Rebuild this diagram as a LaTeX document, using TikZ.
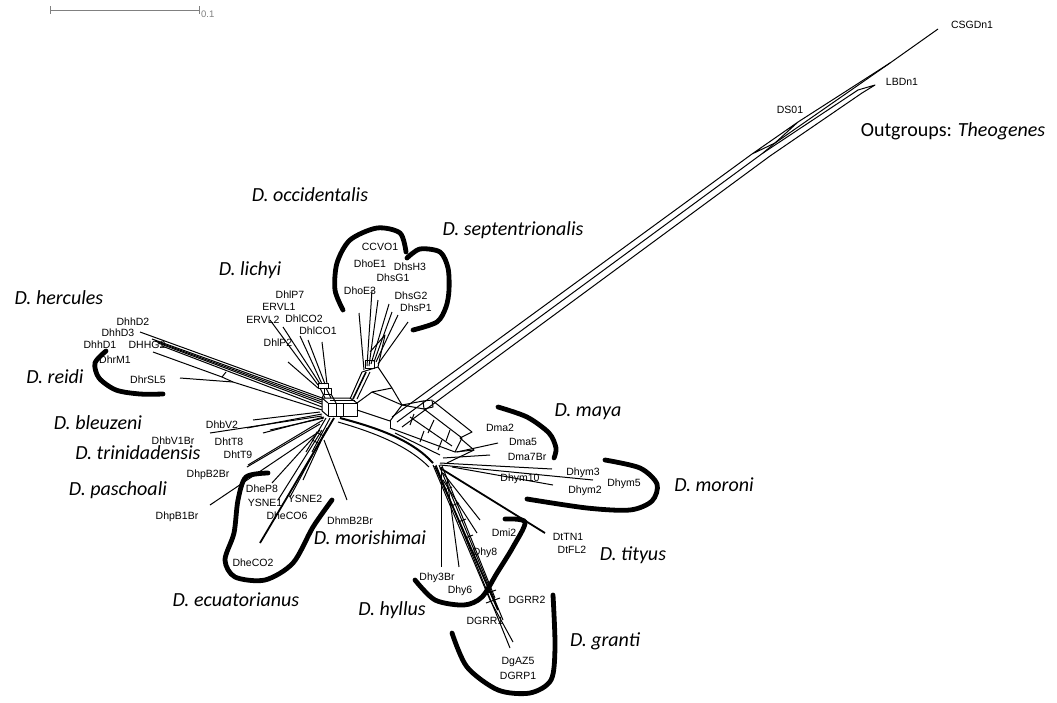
\documentclass[tikz,border=0pt]{standalone}
\usepackage{fontspec}
\setmainfont{Liberation Sans}
\newfontfamily\spfont{Carlito}
\begin{document}
\begin{tikzpicture}[x=1pt,y=-1pt,
  net/.style={line width=1pt, line join=round},
  thk/.style={line width=1.8pt},
  grp/.style={line width=4.8pt, line cap=round},
  leaf/.style={font=\fontsize{10.5}{12}\selectfont, inner sep=0pt},
  spc/.style={font=\spfont\itshape\fontsize{20}{24}\selectfont, inner sep=0pt}]
\path[use as bounding box] (0,0) rectangle (1057,702);

% scale bar
\draw[gray, line width=1pt] (50,6)--(50,14) (50,10)--(199,10) (199,6)--(199,14);
\node[text=gray, font=\fontsize{9.5}{10}\selectfont, anchor=west, inner sep=0pt] (scale) at (201,14) {0.1};

% ---------- outgroup bundle ----------
\draw[net] (392,417) -- (752,154) -- (798,122) -- (775,143) -- (752,154);
\draw[net] (798,122) -- (890,63) -- (938,29);
\draw[net] (775,143) -- (890,63);
\draw[net] (397,422) -- (763,153) -- (775,143);
\draw[net] (402,427) -- (770,156) -- (862,93) -- (875,85) -- (858,90) -- (763,153);

% ---------- central hub ----------
\draw[net] (328,403) rectangle (357,416);
\draw[net] (336,403) -- (336,416) (343,403) -- (343,416);
\draw[net] (322,398) -- (328,403) (322,411) -- (328,416) (322,398) -- (322,411);
\draw[net] (322,398) -- (350,398) -- (357,403);
\draw[net] (330,400) -- (355,400);
\draw[net] (324,388) rectangle (331,394);
\draw[net] (331,394) -- (336,403) (324,394) -- (322,398);

% ---------- right band ----------
\draw[line width=2pt] (340,418) .. controls (378,428) and (412,440) .. (433,463);
\draw[net] (338,422) .. controls (376,433) and (408,446) .. (429,467);
\draw[net] (357,403) -- (372,392) -- (402,405) -- (390,421) -- (357,410);
\draw[net] (390,421) -- (390,428);
\draw[net] (378,367) -- (392,388) -- (402,405);
\draw[net] (392,388) -- (372,392);
\draw[net] (402,405) -- (423,401) -- (432,400) -- (433,407) -- (424,409) -- (423,401);
\draw[net] (424,409) -- (402,405);
\draw[net] (433,401) -- (472,432) -- (460,438) -- (474,450) -- (447,463);
\draw[net] (424,409) -- (462,438);
\draw[net] (390,428) -- (455,452) -- (474,450);
\draw[net] (410,417) -- (452,446);
\draw[net] (395,433) -- (440,455);
\draw[net] (410,425) -- (414,414) (428,433) -- (434,420) (446,441) -- (450,430);
\draw[net] (420,442) -- (424,431) (438,450) -- (442,440);
\draw[net] (455,452) -- (462,438);

% ---------- upper clade (occidentalis / septentrionalis) ----------
\draw[net] (362,372) -- (350,399);
\draw[net] (370,372) -- (357,399);
\draw[line width=1.6pt] (366,372) -- (353,399);
\draw[net] (362,372) -- (378,367);
\draw[net] (365,368) rectangle (374,360);
\draw[net] (364,370) -- (359,313);
\draw[net] (367,366) -- (372,290);
\draw[net] (369,366) -- (378,300);
\draw[net] (371,364) -- (389,304);
\draw[net] (374,362) -- (392,312);
\draw[net] (376,362) -- (398,315);
\draw[net] (378,364) -- (408,322);
\draw[net] (370,352) -- (385,335) -- (378,367);

% ---------- lichyi ----------
\draw[net] (318,383) rectangle (328,388);
\draw[net] (320,388) -- (325,398) (326,388) -- (331,398);
\draw[net] (270,320) -- (318,385);
\draw[net] (283,327) -- (320,384);
\draw[net] (300,336) -- (322,384);
\draw[net] (308,340) -- (325,384);
\draw[net] (322,342) -- (327,384);
\draw[net] (288,362) -- (318,388);

% ---------- hercules / reidi ----------
\draw[net] (322,398) -- (140,332);
\draw[net] (322,400) -- (152,339);
\draw[net] (322,402) -- (155,341);
\draw[net] (322,404) -- (158,343);
\draw[net] (322,407) -- (162,346);
\draw[net] (322,410) -- (233,382) -- (180,378);
\draw[net] (153,352) -- (222,377) -- (233,382);
\draw[net] (222,377) -- (226,372);

% ---------- bleuzeni / trinidadensis / paschoali / ecuatorianus ----------
\draw[net] (253,420) -- (320,412);
\draw[net] (247,428) -- (322,414);
\draw[net] (210,433) -- (322,416);
\draw[net] (263,433) -- (324,417);
\draw[net] (270,430) -- (324,418);
\draw[net] (248,465) -- (323,420);
\draw[net] (247,467) -- (320,424);
\draw[net] (326,418) -- (306,452);
\draw[net] (330,418) -- (312,452);
\draw[thk] (334,418) -- (260,543);
\draw[net] (210,505) -- (317,433);
\draw[net] (272,483) -- (320,430);
\draw[net] (278,500) -- (322,430);
\draw[net] (290,497) -- (325,432);
\draw[net] (303,480) -- (327,428);
\draw[net] (347,500) -- (324,440);
\draw[net] (316,432) -- (324,436) (312,440) -- (320,444);

% ---------- maya / moroni / tityus ----------
\draw[net] (457,452) -- (498,443);
\draw[net] (443,458) -- (490,455);
\draw[net] (440,463) -- (552,469);
\draw[net] (440,465) -- (593,480);
\draw[net] (452,467) -- (553,485);
\draw[thk] (440,468) -- (545,533);

% ---------- hyllus / granti ----------
\draw[net] (433,465) -- (490,600) -- (513,642);
\draw[net] (436,465) -- (510,648);
\draw[net] (439,465) -- (503,620);
\draw[net] (442,466) -- (495,598);
\draw[thk] (435,466) -- (498,610);
\draw[net] (441,467) -- (441,567);
\draw[net] (447,478) -- (459,567);
\draw[net] (443,480) -- (477,533);
\draw[net] (443,473) -- (480,520);
\draw[net] (444,490) -- (452,487) (451,506) -- (459,503) (458,522) -- (466,519) (465,538) -- (473,535);
\draw[net] (482,595) -- (496,590) (486,603) -- (500,598);

% ---------- group curves ----------
\draw[grp] plot[smooth] coordinates {(343,310) (335,290) (337,263) (350,240) (377,228) (400,233) (406,252)};
\draw[grp] plot[smooth] coordinates {(407,258) (420,249) (440,252) (448,268) (449,290) (446,307) (437,322) (413,330)};
\draw[grp] plot[smooth] coordinates {(106,351) (95,363) (99,378) (116,390) (140,394) (163,394)};
\draw[grp] plot[smooth] coordinates {(268,473) (246,477) (238,500) (234,533) (225,560) (235,577) (265,580) (293,563) (313,527) (332,500)};
\draw[grp] plot[smooth] coordinates {(505,519) (525,522) (513,547) (497,573) (482,597) (464,605) (435,600) (415,580)};
\draw[grp] plot[smooth] coordinates {(553,595) (555,647) (551,680) (530,693) (498,690) (467,667) (452,633)};
\draw[grp] plot[smooth] coordinates {(605,460) (640,468) (657,484) (652,501) (630,510) (587,508) (527,499)};
\draw[grp] plot[smooth] coordinates {(498,407) (527,417) (549,433) (556,448) (554,458)};

% ---------- leaf labels ----------
\node[leaf] (CSGDn1) at (972,25) {CSGDn1};
\node[leaf] (LBDn1) at (902,82) {LBDn1};
\node[leaf] (DS01) at (790,110) {DS01};
\node[leaf] (CCVO1) at (380,247) {CCVO1};
\node[leaf] (DhoE1) at (370,264) {DhoE1};
\node[leaf] (DhsH3) at (410,267) {DhsH3};
\node[leaf] (DhsG1) at (393,278) {DhsG1};
\node[leaf] (DhoE3) at (360,291) {DhoE3};
\node[leaf] (DhsG2) at (411,296) {DhsG2};
\node[leaf] (DhsP1) at (416,308) {DhsP1};
\node[leaf] (DhlP7) at (290,295) {DhlP7};
\node[leaf] (ERVL1) at (279,307) {ERVL1};
\node[leaf] (ERVL2) at (263,320) {ERVL2};
\node[leaf] (DhlCO2) at (304,319) {DhlCO2};
\node[leaf] (DhlCO1) at (318,331) {DhlCO1};
\node[leaf] (DhlP2) at (278,343) {DhlP2};
\node[leaf] (DhhD2) at (133,322) {DhhD2};
\node[leaf] (DhhD3) at (118,333) {DhhD3};
\node[leaf] (DhhD1) at (100,345) {DhhD1};
\node[leaf] (DHHG2) at (147,345) {DHHG2};
\node[leaf] (DhrM1) at (115,360) {DhrM1};
\node[leaf] (DhrSL5) at (148,380) {DhrSL5};
\node[leaf] (DhbV2) at (222,425) {DhbV2};
\node[leaf] (DhbV1Br) at (173,441) {DhbV1Br};
\node[leaf] (DhtT8) at (229,442) {DhtT8};
\node[leaf] (DhtT9) at (238,455) {DhtT9};
\node[leaf] (DhpB2Br) at (208,475) {DhpB2Br};
\node[leaf] (DheP8) at (262,489) {DheP8};
\node[leaf] (YSNE1) at (265,503) {YSNE1};
\node[leaf] (YSNE2) at (305,499) {YSNE2};
\node[leaf] (DheCO6) at (287,516) {DheCO6};
\node[leaf] (DhpB1Br) at (177,517) {DhpB1Br};
\node[leaf] (DhmB2Br) at (350,521) {DhmB2Br};
\node[leaf] (DheCO2) at (253,563) {DheCO2};
\node[leaf] (Dma2) at (500,428) {Dma2};
\node[leaf] (Dma5) at (523,442) {Dma5};
\node[leaf] (Dma7Br) at (527,457) {Dma7Br};
\node[leaf] (Dhym3) at (583,473) {Dhym3};
\node[leaf] (Dhym10) at (520,479) {Dhym10};
\node[leaf] (Dhym2) at (585,491) {Dhym2};
\node[leaf] (Dhym5) at (624,484) {Dhym5};
\node[leaf] (Dmi2) at (504,533) {Dmi2};
\node[leaf] (DtTN1) at (568,537) {DtTN1};
\node[leaf] (DtFL2) at (572,550) {DtFL2};
\node[leaf] (Dhy8) at (485,553) {Dhy8};
\node[leaf] (Dhy3Br) at (437,578) {Dhy3Br};
\node[leaf] (Dhy6) at (460,591) {Dhy6};
\node[leaf] (DGRR2) at (527,600) {DGRR2};
\node[leaf] (DGRR1) at (485,621) {DGRR1};
\node[leaf] (DgAZ5) at (518,662) {DgAZ5};
\node[leaf] (DGRP1) at (518,676) {DGRP1};

% ---------- species labels ----------
\node[spc] (occ) at (310,195) {D. occidentalis};
\node[spc] (sep) at (513,230) {D. septentrionalis};
\node[spc] (lic) at (250,270) {D. lichyi};
\node[spc] (her) at (59,298) {D. hercules};
\node[spc] (rei) at (55,377) {D. reidi};
\node[spc] (ble) at (98,423) {D. bleuzeni};
\node[spc] (tri) at (138,453) {D. trinidadensis};
\node[spc] (pas) at (118,490) {D. paschoali};
\node[spc] (mor) at (370,538) {D. morishimai};
\node[spc] (ecu) at (236,600) {D. ecuatorianus};
\node[spc] (hyl) at (392,610) {D. hyllus};
\node[spc] (gra) at (605,641) {D. granti};
\node[spc] (tit) at (633,555) {D. tityus};
\node[spc] (mrn) at (714,485) {D. moroni};
\node[spc] (may) at (588,412) {D. maya};
\node[font=\spfont\fontsize{20}{24}\selectfont, inner sep=0pt] (out) at (953,131) {Outgroups: \textit{Theogenes}};
\end{tikzpicture}
\end{document}
